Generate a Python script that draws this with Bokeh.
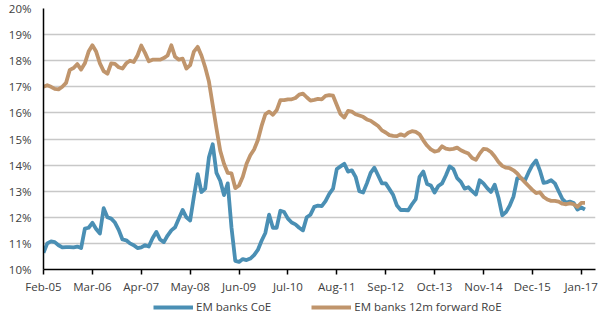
from bokeh.plotting import figure
from bokeh.models import FixedTicker, Legend, LegendItem, ColumnDataSource
from bokeh.layouts import column
from bokeh.embed import file_html
from bokeh.resources import INLINE

# Monthly observations from Feb-05 (index 0) to Feb-17 (index 144)
coe = [10.64, 11.0, 11.08, 11.05, 10.93, 10.85, 10.86, 10.86, 10.85, 10.88,
       10.82, 11.57, 11.6, 11.79, 11.55, 11.38, 12.35, 12.0, 11.95, 11.8,
       11.52, 11.15, 11.12, 11.0, 10.93, 10.82, 10.85, 10.93, 10.88, 11.2,
       11.44, 11.15, 11.05, 11.3, 11.5, 11.62, 11.95, 12.28, 12.0, 11.88,
       12.8, 13.65, 12.97, 13.1, 14.3, 14.8, 13.7, 13.4, 12.85, 13.3,
       11.6, 10.33, 10.29, 10.4, 10.36, 10.42, 10.55, 10.75, 11.1, 11.4,
       12.1, 11.6, 11.6, 12.25, 12.2, 11.95, 11.8, 11.73, 11.6, 11.5,
       12.0, 12.1, 12.4, 12.45, 12.43, 12.62, 12.9, 13.1, 13.85, 13.95,
       14.05, 13.75, 13.8, 13.55, 13.0, 12.95, 13.3, 13.7, 13.9, 13.6,
       13.3, 13.3, 13.08, 12.85, 12.45, 12.28, 12.28, 12.27, 12.5, 12.7,
       13.55, 13.75, 13.28, 13.22, 12.95, 13.2, 13.3, 13.6, 13.95, 13.85,
       13.5, 13.36, 13.1, 13.15, 13.0, 12.87, 13.42, 13.3, 13.12, 12.97,
       13.25, 12.75, 12.08, 12.2, 12.45, 12.8, 13.5, 13.5, 13.4, 13.72,
       14.0, 14.18, 13.8, 13.32, 13.35, 13.42, 13.3, 13.0, 12.7, 12.56,
       12.6, 12.55, 12.3, 12.38, 12.3]

roe = [17.0, 17.06, 17.0, 16.92, 16.9, 17.0, 17.15, 17.65, 17.72, 17.87,
       17.66, 17.9, 18.35, 18.59, 18.35, 17.9, 17.6, 17.5, 17.9, 17.88,
       17.75, 17.7, 17.9, 18.0, 17.95, 18.2, 18.58, 18.3, 17.98, 18.04,
       18.04, 18.04, 18.1, 18.2, 18.59, 18.15, 18.04, 18.08, 17.7, 17.83,
       18.35, 18.53, 18.2, 17.75, 17.2, 16.3, 15.4, 14.55, 14.05, 13.7,
       13.68, 13.12, 13.22, 13.55, 14.05, 14.38, 14.6, 14.95, 15.5, 15.95,
       16.05, 15.93, 16.1, 16.49, 16.49, 16.52, 16.52, 16.57, 16.7, 16.74,
       16.6, 16.47, 16.5, 16.54, 16.52, 16.65, 16.68, 16.66, 16.3, 15.95,
       15.82, 16.08, 16.05, 15.95, 15.9, 15.85, 15.75, 15.7, 15.6, 15.5,
       15.33, 15.25, 15.15, 15.12, 15.11, 15.18, 15.12, 15.24, 15.3, 15.27,
       15.18, 14.95, 14.75, 14.6, 14.52, 14.55, 14.72, 14.63, 14.6, 14.62,
       14.67, 14.57, 14.5, 14.44, 14.27, 14.2, 14.44, 14.62, 14.6, 14.5,
       14.33, 14.12, 13.97, 13.9, 13.88, 13.8, 13.68, 13.5, 13.35, 13.2,
       13.05, 12.93, 12.96, 12.78, 12.68, 12.63, 12.63, 12.6, 12.52, 12.5,
       12.53, 12.5, 12.4, 12.55, 12.55]

tick_positions = [0, 13, 26, 39, 52, 65, 78, 91, 104, 117, 130, 143]
tick_labels = ["Feb-05", "Mar-06", "Apr-07", "May-08", "Jun-09", "Jul-10",
               "Aug-11", "Sep-12", "Oct-13", "Nov-14", "Dec-15", "Jan-17"]
y_ticks = [10, 11, 12, 13, 14, 15, 16, 17, 18, 19, 20]
y_labels = ["10%", "11%", "12%", "13%", "14%", "15%", "16%", "17%", "18%", "19%", "20%"]
series_names = ["EM banks CoE", "EM banks 12m forward RoE"]

FONT = "Open Sans"
TXT = "#404040"
BLUE = "#4A8FB4"
BROWN = "#C0956C"
LW = 3.8

months = list(range(len(coe)))
src = ColumnDataSource(dict(m=months, coe=coe, roe=roe))

p = figure(width=600, height=296, output_backend="svg", toolbar_location=None,
           x_range=(0, 146.8), y_range=(10, 20),
           min_border_left=43, min_border_right=5, min_border_top=8,
           min_border_bottom=27)
p.outline_line_color = None
p.background_fill_color = "white"
p.border_fill_color = "white"

p.xgrid.grid_line_color = None
p.ygrid.grid_line_color = "#C8C8C8"
p.ygrid.grid_line_width = 1.3
p.ygrid.ticker = FixedTicker(ticks=y_ticks)

p.line("m", "coe", source=src, line_color=BLUE, line_width=LW, line_join="round")
p.line("m", "roe", source=src, line_color=BROWN, line_width=LW, line_join="round")

xa = p.xaxis[0]
xa.ticker = FixedTicker(ticks=tick_positions)
xa.major_label_overrides = {t: l for t, l in zip(tick_positions, tick_labels)}
xa.axis_line_color = "black"
xa.axis_line_width = 1.5
xa.major_tick_line_color = "black"
xa.major_tick_line_width = 1.5
xa.major_tick_out = 5
xa.major_tick_in = 0
xa.minor_tick_line_color = None
xa.major_label_text_font = FONT
xa.major_label_text_font_size = "11.5px"
xa.major_label_text_color = TXT
xa.major_label_standoff = 4

ya = p.yaxis[0]
ya.ticker = FixedTicker(ticks=y_ticks)
ya.major_label_overrides = {t: l for t, l in zip(y_ticks, y_labels)}
ya.axis_line_color = "black"
ya.axis_line_width = 1.5
ya.major_tick_line_color = None
ya.minor_tick_line_color = None
ya.major_tick_out = 0
ya.major_tick_in = 0
ya.major_label_text_font = FONT
ya.major_label_text_font_size = "11.5px"
ya.major_label_text_color = TXT
ya.major_label_standoff = 12

# Legend strip below the chart (legend-only renderers sit outside its view)
lg = figure(width=600, height=25, output_backend="svg", toolbar_location=None,
            x_range=(0, 1), y_range=(0, 1), x_axis_type=None, y_axis_type=None,
            min_border_left=0, min_border_right=0, min_border_top=0,
            min_border_bottom=0)
lg.grid.visible = False
lg.outline_line_color = None
lg.border_fill_color = "white"
lg1 = lg.line(x=[5, 6], y=[5, 6], line_color=BLUE, line_width=LW)
lg2 = lg.line(x=[5, 6], y=[5, 6], line_color=BROWN, line_width=LW)
legend = Legend(items=[LegendItem(label=series_names[0], renderers=[lg1]),
                       LegendItem(label=series_names[1], renderers=[lg2])],
                orientation="horizontal", location=(110, 7),
                glyph_width=40, glyph_height=12, label_standoff=3, spacing=40,
                padding=0, margin=0, border_line_color=None,
                background_fill_alpha=0,
                label_text_font=FONT, label_text_font_size="11.5px",
                label_text_color=TXT)
lg.add_layout(legend, "center")

layout = column(p, lg, spacing=0)
open("out.html", "w").write(file_html(layout, INLINE))
